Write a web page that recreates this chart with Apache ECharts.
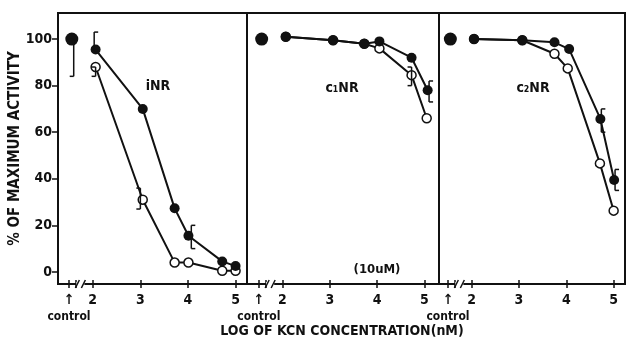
<!DOCTYPE html>
<html>
<head>
<meta charset="utf-8">
<script src="https://cdn.jsdelivr.net/npm/echarts@6/dist/echarts.min.js"></script>
<style>
  html, body { margin: 0; padding: 0; background: #fff; }
  #chart { width: 626px; height: 341px; }
</style>
</head>
<body>
<div id="chart"></div>
<script>
var chartDom = document.getElementById('chart');
var myChart = echarts.init(chartDom);
var font = '"DejaVu Sans Condensed", "DejaVu Sans", sans-serif';
var ink = '#111';

// log10 of KCN concentration (nM); control is drawn left of the axis break
var logTicks = [2, 3, 4, 5];
var controlAt = 1.5;
var breakAt = [1.74];
var extraTicks = [1.64];
var panelNames = ['iNR', 'c\u2081NR', 'c\u2082NR'];

var controlPts = [[1.56, 100], [1.56, 100], [1.55, 100]];

var iNR_filled = [[2.06, 95.5], [3.05, 70], [3.72, 27.3], [4.01, 15.5], [4.72, 4.5], [5.0, 2.5]];
var iNR_open = [[2.06, 88], [3.05, 31], [3.72, 4], [4.01, 4], [4.72, 0.5], [5.0, 0.5]];
var c1NR_filled = [[2.07, 101], [3.07, 99.5], [3.73, 98], [4.05, 99], [4.73, 92], [5.07, 78]];
var c1NR_open = [[2.07, 101], [3.07, 99.5], [3.73, 98], [4.05, 96], [4.73, 84.5], [5.05, 66]];
var c2NR_filled = [[2.05, 100], [3.07, 99.5], [3.75, 98.6], [4.06, 95.7], [4.72, 65.7], [5.01, 39.5]];
var c2NR_open = [[2.05, 100], [3.07, 99.5], [3.75, 93.7], [4.03, 87.4], [4.71, 46.6], [5.0, 26.3]];

// error brackets: [x, low, high, side]
var iNR_err = [[1.6, 84, 100, -1], [2.03, 95, 103, 1], [2.06, 84, 88, -1], [3.0, 27, 36, -1], [4.07, 10, 20, 1]];
var c1NR_err = [[4.73, 80, 88, -1], [5.1, 73, 82, 1]];
var c2NR_err = [[4.74, 60, 70, 1], [5.03, 35, 44, 1]];

var yTicks = [0, 20, 40, 60, 80, 100];

var filledSets = [iNR_filled, c1NR_filled, c2NR_filled];
var openSets = [iNR_open, c1NR_open, c2NR_open];
var errSets = [iNR_err, c1NR_err, c2NR_err];

var gridLeft = [58, 247, 439];
var gridWidth = [189, 192, 186];
var xRange = [[1.27, 5.24], [1.25, 5.31], [1.31, 5.24]];

var grids = [], xAxes = [], yAxes = [], series = [];

for (var i = 0; i < 3; i++) {
  grids.push({
    left: gridLeft[i], top: 13, width: gridWidth[i], height: 271,
    show: true, borderColor: ink, borderWidth: 2, outerBoundsMode: 'none'
  });
  var tickVals = [controlAt].concat(extraTicks, logTicks);
  // main axis: outside ticks, arrow + log labels
  xAxes.push({
    gridIndex: i, type: 'value', min: xRange[i][0], max: xRange[i][1], position: 'bottom',
    axisLine: { show: true, onZero: false, lineStyle: { color: ink, width: 2 } },
    splitLine: { show: false },
    axisTick: { show: true, customValues: tickVals, length: 4, lineStyle: { color: ink, width: 1.5 } },
    axisLabel: {
      show: true,
      customValues: [controlAt].concat(logTicks),
      hideOverlap: false, showMinLabel: true, showMaxLabel: true,
      margin: 9,
      color: ink, fontFamily: font, fontWeight: 'bold', fontSize: 14,
      formatter: function (v) {
        return Math.abs(v - controlAt) < 1e-6 ? '\u2191' : String(v);
      }
    }
  });
  // twin axis: inside ticks and the "control" caption
  xAxes.push({
    gridIndex: i, type: 'value', min: xRange[i][0], max: xRange[i][1], position: 'bottom',
    axisLine: { show: false, onZero: false }, splitLine: { show: false },
    axisLabel: {
      show: true, customValues: [controlAt], margin: 27, showMinLabel: true,
      color: ink, fontFamily: font, fontWeight: 'bold', fontSize: 12,
      formatter: function () { return 'control'; }
    },
    axisTick: { show: true, inside: true, customValues: tickVals, length: 4, lineStyle: { color: ink, width: 1.5 } }
  });
  yAxes.push({
    gridIndex: i, type: 'value', min: -5.2, max: 111.2, show: i === 0,
    name: i === 0 ? '% OF MAXIMUM ACTIVITY' : '',
    nameLocation: 'middle', nameGap: 35, nameMoveOverlap: false,
    nameTextStyle: { fontFamily: font, fontWeight: 'bold', fontSize: 15, color: ink },
    axisLine: { show: true, onZero: false, lineStyle: { color: ink, width: 2 } },
    splitLine: { show: false },
    axisTick: { show: true, customValues: yTicks, length: 6, lineStyle: { color: ink, width: 1.5 } },
    axisLabel: { show: true, customValues: yTicks, margin: 6, color: ink, fontFamily: font, fontWeight: 'bold', fontSize: 14 }
  });

  series.push({
    type: 'line', xAxisIndex: 2 * i, yAxisIndex: i, data: openSets[i], z: 3,
    symbol: 'circle', symbolSize: 9,
    itemStyle: { color: '#fff', borderColor: ink, borderWidth: 1.5, opacity: 1 },
    lineStyle: { color: ink, width: 2 }
  });
  series.push({
    type: 'line', xAxisIndex: 2 * i, yAxisIndex: i, data: filledSets[i], z: 4,
    symbol: 'circle', symbolSize: 10,
    itemStyle: { color: ink, opacity: 1 },
    lineStyle: { color: ink, width: 2 }
  });
  series.push({
    type: 'scatter', xAxisIndex: 2 * i, yAxisIndex: i, data: [controlPts[i]], z: 4,
    symbolSize: 13, itemStyle: { color: ink, opacity: 1 }
  });
  series.push({
    type: 'custom', xAxisIndex: 2 * i, yAxisIndex: i, data: errSets[i], z: 5,
    encode: { x: 0, y: [1, 2] },
    renderItem: function (params, api) {
      var a = api.coord([api.value(0), api.value(1)]);
      var b = api.coord([api.value(0), api.value(2)]);
      var dx = api.value(3) * 4;
      var st = { stroke: ink, lineWidth: 1.5 };
      return { type: 'group', children: [
        { type: 'line', shape: { x1: a[0], y1: a[1], x2: b[0], y2: b[1] }, style: st },
        { type: 'line', shape: { x1: a[0], y1: a[1], x2: a[0] + dx, y2: a[1] }, style: st },
        { type: 'line', shape: { x1: b[0], y1: b[1], x2: b[0] + dx, y2: b[1] }, style: st }
      ] };
    }
  });
  series.push({
    type: 'custom', xAxisIndex: 2 * i, yAxisIndex: i, data: breakAt.map(function (b) { return [b, -5.2]; }), z: 6,
    renderItem: function (params, api) {
      var p = api.coord([api.value(0), api.value(1)]);
      var st = { stroke: ink, lineWidth: 1.5 };
      return { type: 'group', children: [
        { type: 'rect', shape: { x: p[0] - 4, y: p[1] - 2, width: 8, height: 4 }, style: { fill: '#fff' } },
        { type: 'line', shape: { x1: p[0] - 5, y1: p[1] + 4, x2: p[0] - 1, y2: p[1] - 4 }, style: st },
        { type: 'line', shape: { x1: p[0] + 1, y1: p[1] + 4, x2: p[0] + 5, y2: p[1] - 4 }, style: st }
      ] };
    }
  });
}

var txt = function (x, y, s, size) {
  return { type: 'text', x: x, y: y, style: {
    text: s, fill: ink, font: 'bold ' + size + 'px ' + font, textAlign: 'center', textVerticalAlign: 'middle'
  } };
};

var option = {
  animation: false,
  backgroundColor: '#fff',
  grid: grids,
  xAxis: xAxes,
  yAxis: yAxes,
  series: series,
  graphic: [
    txt(158, 86, panelNames[0], 14),
    txt(342, 88, panelNames[1], 14),
    txt(533, 88, panelNames[2], 14),
    txt(377, 270, '(10uM)', 13),
    txt(342, 331, 'LOG OF KCN CONCENTRATION(nM)', 14)
  ]
};
myChart.setOption(option);
</script>
</body>
</html>
